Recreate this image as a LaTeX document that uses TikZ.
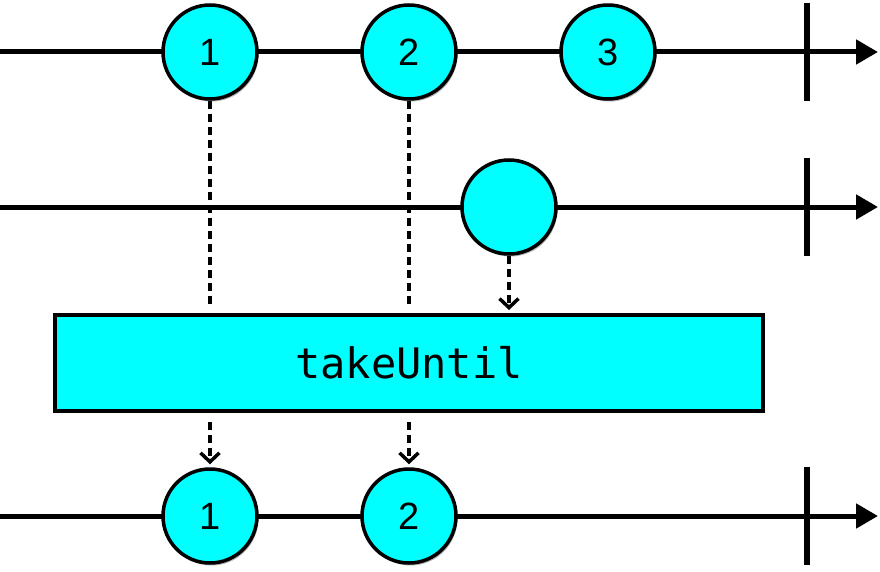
\documentclass[tikz,border=0pt]{standalone}
\usepackage{fontspec}
\setmainfont{Liberation Sans}
\setmonofont{DejaVu Sans Mono}
\usetikzlibrary{positioning,arrows.meta,shadows}
\definecolor{marblefill}{RGB}{0,255,255}

\begin{document}
\begin{tikzpicture}[
    x=1pt,y=-1pt,
    node distance=199pt,
    marble/.style={draw,circle,fill=marblefill,line width=3.5pt,minimum size=94pt,inner sep=0pt,
        font=\fontsize{38}{38}\selectfont,
        drop shadow={shadow xshift=1.5pt,shadow yshift=-2.5pt,opacity=0.3,fill=black}},
    timeline/.style={line width=5pt,-{Triangle[length=22pt,width=24pt]}},
    endbar/.style={line width=6pt},
    flow/.style={line width=4pt,dash pattern=on 8pt off 5pt},
    flowarrow/.style={flow,-{Straight Barb[length=9pt,width=19pt,line width=3.5pt]}},
]
    \useasboundingbox (0,0) rectangle (880,572);

    %timelines
    \coordinate (s1) at (0,52);
    \coordinate (e1) at (878,52);
    \coordinate (s2) at (0,207);
    \coordinate (e2) at (878,207);
    \coordinate (s3) at (0,516);
    \coordinate (e3) at (878,516);
    \draw[timeline] (s1) -- (e1);
    \draw[timeline] (s2) -- (e2);
    \draw[timeline] (s3) -- (e3);

    %completion bars
    \draw[endbar] (807,3) -- (807,101);
    \draw[endbar] (807,158) -- (807,256);
    \draw[endbar] (807,467) -- (807,565);

    %source
    \node[marble] (t1) at (210,52) {1};
    \node[marble,right of=t1] (t2) {2};
    \node[marble,right of=t2] (t3) {3};

    %notifier
    \node[marble] (m1) at (509,207) {};

    %operator
    \node[draw,fill=marblefill,line width=4pt,minimum width=708pt,minimum height=96pt,
        font=\ttfamily\fontsize{42}{42}\selectfont] (op) at (409,363) {takeUntil};

    %result
    \node[marble] (b1) at (210,516) {1};
    \node[marble,right of=b1] (b2) {2};

    \draw[flow,shorten >=9pt] (t1.south) -- (t1.south |- op.north);
    \draw[flow,shorten >=9pt] (t2.south) -- (t2.south |- op.north);
    \draw[flowarrow,shorten >=3pt] (m1.south) -- (m1.south |- op.north);
    \draw[flowarrow,shorten <=9pt,shorten >=3pt] (op.south -| b1) -- (b1.north);
    \draw[flowarrow,shorten <=9pt,shorten >=3pt] (op.south -| b2) -- (b2.north);
\end{tikzpicture}
\end{document}
